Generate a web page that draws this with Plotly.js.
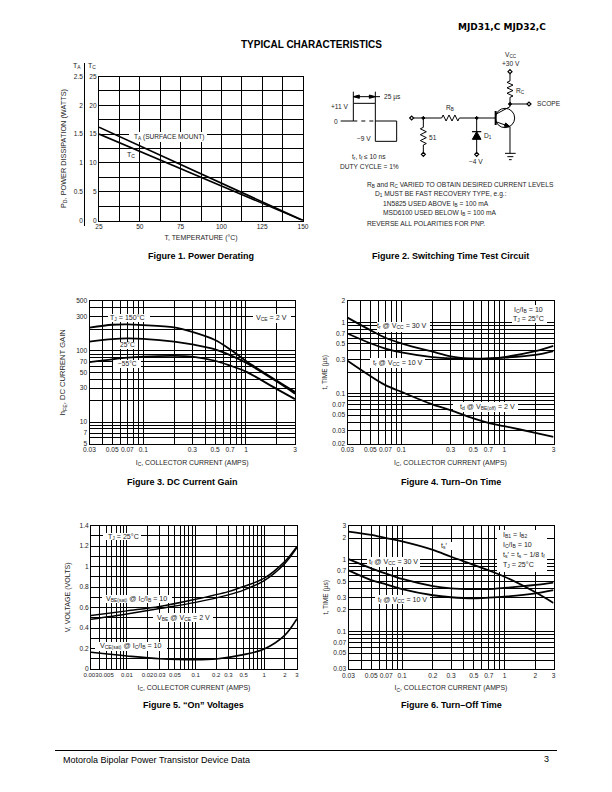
<!DOCTYPE html>
<html><head><meta charset="utf-8">
<script src="https://cdn.plot.ly/plotly-3.0.1.min.js"></script>
<style>html,body{margin:0;padding:0;background:#fff}#c{width:612px;height:792px}</style>
</head><body><div id="c"></div>
<script>
// ---------- data ----------
const tempC = [25, 150];
const derateTA = [1.62, 0];
const derateTC = [15, 0];
const tempGrid = [25,37.5,50,62.5,75,87.5,100,112.5,125,137.5,150];
const tempLabels = ['25','','50','','75','','100','','125','','150'];
const tcGrid = [0,2.5,5,7.5,10,12.5,15,17.5,20,22.5,25];
const tcLabels = ['0','','5','','10','','15','','20','','25'];
const taGrid = [0,0.5,1,1.5,2,2.5];
const taLabels = ['0','0.5','1','1.5','2','2.5'];

const icGrid = [0.03,0.04,0.05,0.06,0.07,0.08,0.09,0.1,0.2,0.3,0.4,0.5,0.6,0.7,0.8,0.9,1,2,3];
const icLabels = ['0.03','','0.05','','0.07','','','0.1','','0.3','','0.5','','0.7','','','1','','3'];

const gainIc = [0.03,0.05,0.07,0.1,0.2,0.3,0.5,0.7,1,2,3];
const gain150 = [211,232,235,230,213,185,142,105,72,38,26.5];
const gain25 = [135,146,149,147,135,123,105,87,68,37,25];
const gainM55 = [69.5,76,80,83,85,83,72.5,62,51,29,21];
const gainGrid = [5,6,7,8,9,10,20,30,40,50,60,70,80,90,100,200,300,400,500];
const gainLabels = ['5','','7','','','10','','30','','50','','70','','','100','','300','','500'];

const onIc = [0.03,0.05,0.07,0.1,0.2,0.3,0.5,0.7,1,2,3];
const trV30 = [1.17,0.78,0.61,0.51,0.388,0.334,0.31,0.31,0.327,0.396,0.47];
const trV10 = [0.70,0.51,0.43,0.38,0.327,0.313,0.31,0.313,0.32,0.35,0.396];
const tdOff = [0.29,0.177,0.132,0.106,0.0706,0.0588,0.045,0.039,0.035,0.0283,0.0248];
const onGrid = [0.02,0.03,0.04,0.05,0.06,0.07,0.08,0.09,0.1,0.2,0.3,0.4,0.5,0.6,0.7,0.8,0.9,1,2];
const onLabels = ['0.02','0.03','','0.05','','0.07','','','0.1','','0.3','','0.5','','0.7','','','1','2'];

const vIc = [0.003,0.01,0.03,0.1,0.3,0.5,1,2,3];
const vbeSat = [0.521,0.567,0.61,0.68,0.755,0.805,0.886,1.05,1.195];
const vbeOn = [0.485,0.537,0.59,0.65,0.723,0.77,0.863,1.03,1.185];
const vIcCe = [0.003,0.01,0.03,0.1,0.2,0.5,1,2,3];
const vceSat = [0.163,0.127,0.10,0.09,0.098,0.14,0.195,0.33,0.49];
const vIcGrid = [0.003,0.004,0.005,0.006,0.007,0.008,0.009,0.01,0.02,0.03,0.04,0.05,0.06,0.07,0.08,0.09,0.1,0.2,0.3,0.4,0.5,0.6,0.7,0.8,0.9,1,2,3];
const vIcLabels = ['0.003','','0.005','','','','','0.01','0.02','0.03','','0.05','','','','','0.1','0.2','0.3','','0.5','','','','','1','2','3'];
const voltGrid = [0,0.1,0.2,0.3,0.4,0.5,0.6,0.7,0.8,0.9,1,1.1,1.2,1.3,1.4];
const voltLabels = ['0','','0.2','','0.4','','0.6','','0.8','','1','','1.2','','1.4'];

const offIc = [0.03,0.05,0.07,0.1,0.2,0.3,0.5,0.7,1,2,3];
const tsPrime = [2.47,2.22,2.0,1.8,1.37,1.1,0.85,0.71,0.58,0.352,0.25];
const tfV30 = [1.02,0.76,0.64,0.54,0.43,0.40,0.39,0.39,0.405,0.445,0.48];
const tfV10 = [0.71,0.52,0.455,0.39,0.32,0.30,0.29,0.296,0.306,0.34,0.377];
const offXGrid = [0.03,0.04,0.05,0.06,0.07,0.08,0.09,0.1,0.2,0.3,0.4,0.5,0.6,0.7,0.8,0.9,1,2,3];
const offXLabels = ['0.03','','0.05','','0.07','','','0.1','0.2','0.3','','0.5','','0.7','','','1','2','3'];
const offYGrid = [0.03,0.04,0.05,0.06,0.07,0.08,0.09,0.1,0.2,0.3,0.4,0.5,0.6,0.7,0.8,0.9,1,2,3];
const offYLabels = ['0.03','','0.05','','0.07','','','0.1','0.2','0.3','','0.5','','0.7','','','1','2','3'];

// ---------- layout helpers ----------
const W = 612, H = 792, FONT = 'Liberation Sans, Arial, sans-serif', INK = '#1c1c1c';
const px = x => x / W, py = y => 1 - y / H;
const tickFont = {family: FONT, size: 6.6, color: INK};

function axis(dom, type, range, vals, labels, title, standoff, extra) {
  const major = vals.filter((v, i) => labels[i] !== '');
  const majorText = labels.filter(t => t !== '');
  const minor = vals.filter((v, i) => labels[i] === '');
  const a = {
    type, range, domain: dom, tickmode: 'array', tickvals: major, ticktext: majorText,
    ticks: '', showgrid: true, gridcolor: '#000', gridwidth: 1, zeroline: false,
    showline: true, linecolor: '#000', linewidth: 1, mirror: true, tickangle: 0,
    tickfont: tickFont, fixedrange: true, automargin: false,
    title: {text: title, font: {family: FONT, size: (extra && extra.tsize) || 6.9, color: INK}, standoff}
  };
  if (minor.length) a.minor = {tickmode: 'array', tickvals: minor, showgrid: true, gridcolor: '#000', gridwidth: 1, ticks: ''};
  if (extra) { delete extra.tsize; Object.assign(a, extra); }
  return a;
}
const lg = Math.log10;
function line(x, y, xa, ya, width, shape) {
  return {x, y, xaxis: xa, yaxis: ya, type: 'scatter', mode: 'lines', hoverinfo: 'skip',
          line: {color: '#000', width: width || 1.8, shape: shape || 'spline', smoothing: 0.9}};
}
const ICT = 'I<sub>C</sub>, COLLECTOR CURRENT (AMPS)';
const TT = 't, TIME (µs)';

const traces = [
  line(tempC, derateTC, 'x', 'y', 1.6, 'linear'),
  line(tempC, derateTA, 'x', 'y2', 1.6, 'linear'),
  line(gainIc, gain150, 'x3', 'y3'), line(gainIc, gain25, 'x3', 'y3'), line(gainIc, gainM55, 'x3', 'y3'),
  line(onIc, trV30, 'x4', 'y4'), line(onIc, trV10, 'x4', 'y4'), line(onIc, tdOff, 'x4', 'y4'),
  line(vIc, vbeSat, 'x5', 'y5', 1.5), line(vIc, vbeOn, 'x5', 'y5', 1.5), line(vIcCe, vceSat, 'x5', 'y5', 1.6),
  line(offIc, tsPrime, 'x6', 'y6'), line(offIc, tfV30, 'x6', 'y6'), line(offIc, tfV10, 'x6', 'y6')
];

const dx = (a, b) => [px(a), px(b)], dy = (t, b) => [py(b), py(t)];
const frames = {
  '': [99, 303, 76.5, 220.5], '3': [89.5, 295, 301, 443.5], '4': [347.5, 553.5, 301, 443.5],
  '5': [91, 297, 525.5, 669], '6': [348.5, 553.5, 525.5, 669]
};
const fx = k => dx(frames[k][0], frames[k][1]), fy = k => dy(frames[k][2], frames[k][3]);

const layout = {
  width: W, height: H, margin: {l: 0, r: 0, t: 0, b: 0, pad: 0}, showlegend: false,
  paper_bgcolor: '#fff', plot_bgcolor: '#fff', font: {family: FONT, color: INK},
  xaxis: axis(fx(''), 'linear', [25, 150], tempGrid, tempLabels, 'T, TEMPERATURE (°C)', 5, {anchor: 'y'}),
  yaxis: axis(fy(''), 'linear', [0, 25], tcGrid, tcLabels, '', 0, {anchor: 'x'}),
  yaxis2: axis(fy(''), 'linear', [0, 2.5], taGrid, taLabels, 'P<sub>D</sub>, POWER DISSIPATION (WATTS)', 5,
    {tsize: 7.3, overlaying: 'y', anchor: 'free', position: px(83), showgrid: false, showline: false, mirror: false, side: 'left'}),
  xaxis3: axis(fx('3'), 'log', [lg(0.03), lg(3)], icGrid, icLabels, ICT, 7, {anchor: 'y3'}),
  yaxis3: axis(fy('3'), 'log', [lg(5), lg(500)], gainGrid, gainLabels, 'h<sub>FE</sub>, DC CURRENT GAIN', 9, {tsize: 7.6, anchor: 'x3'}),
  xaxis4: axis(fx('4'), 'log', [lg(0.03), lg(3)], icGrid, icLabels, ICT, 7, {anchor: 'y4'}),
  yaxis4: axis(fy('4'), 'log', [lg(0.02), lg(2)], onGrid, onLabels, TT, 4, {tsize: 6.6, anchor: 'x4'}),
  xaxis5: axis(fx('5'), 'log', [lg(0.003), lg(3)], vIcGrid, vIcLabels, ICT, 7.5,
    {anchor: 'y5', tickfont: {family: FONT, size: 6, color: INK}}),
  yaxis5: axis(fy('5'), 'linear', [0, 1.4], voltGrid, voltLabels, 'V, VOLTAGE (VOLTS)', 8, {tsize: 7.1, anchor: 'x5'}),
  xaxis6: axis(fx('6'), 'log', [lg(0.03), lg(3)], offXGrid, offXLabels, ICT, 7, {anchor: 'y6'}),
  yaxis6: axis(fy('6'), 'log', [lg(0.03), lg(3)], offYGrid, offYLabels, TT, 4, {tsize: 6.6, anchor: 'x6'})
};

// ---------- annotations (page-pixel placement) ----------
function note(x, y, text, o) {
  o = o || {};
  return {
    xref: 'paper', yref: 'paper', x: px(x), y: py(y), text, showarrow: false,
    xanchor: o.xa || 'center', yanchor: 'middle', align: o.xa === 'left' ? 'left' : 'center',
    font: {family: o.family || FONT, size: o.size || 6.6, color: o.color || INK},
    bgcolor: 'rgba(0,0,0,0)', borderpad: 0
  };
}
const lab = (x, y, t, xa) => note(x, y, t, {size: 7.1, xa});
const capt = {size: 9, color: '#000'};
const capB = t => '<b>' + t + '</b>';
const c2 = (zx, zy) => [320 + zx / 3, 10 + zy / 3];
const cn = (zx, zy, t, o) => { const p = c2(zx, zy); return note(p[0], p[1], t, o); };

layout.annotations = [
  note(457, 27, capB('MJD31,C MJD32,C'), {xa: 'left', size: 9, color: '#000', family: 'DejaVu Sans, sans-serif'}),
  note(311, 44, capB('TYPICAL CHARACTERISTICS'), {size: 10, color: '#000'}),
  note(201, 255.5, capB('Figure 1. Power Derating'), capt),
  note(450.5, 255.5, capB('Figure 2. Switching Time Test Circuit'), capt),
  note(182, 482, capB('Figure 3. DC Current Gain'), capt),
  note(451, 482, capB('Figure 4. Turn–On Time'), capt),
  note(193.5, 705, capB('Figure 5. “On” Voltages'), capt),
  note(451, 705, capB('Figure 6. Turn–Off Time'), capt),
  note(62, 760, 'Motorola Bipolar Power Transistor Device Data', {xa: 'left', size: 9, color: '#000'}),
  note(546, 759, '3', {size: 9, color: '#000'}),
  // Figure 1
  note(76.5, 65.5, 'T<sub>A</sub>', {size: 7}), note(92, 65.5, 'T<sub>C</sub>', {size: 7}),
  note(169, 136.5, 'T<sub>A</sub> (SURFACE MOUNT)'), lab(131, 155, 'T<sub>C</sub>'),
  // Figure 3
  lab(127.5, 318, 'T<sub>J</sub> = 150°C'), lab(271.5, 318, 'V<sub>CE</sub> = 2 V'),
  note(127.5, 345, '25°C'), note(127.5, 364, '−55°C'),
  // Figure 4
  lab(528, 310, 'I<sub>C</sub>/I<sub>B</sub> = 10'), lab(528, 319, 'T<sub>J</sub> = 25°C'),
  lab(402, 326.5, 't<sub>r</sub> @ V<sub>CC</sub> = 30 V'),
  lab(397.5, 362.5, 't<sub>r</sub> @ V<sub>CC</sub> = 10 V'),
  lab(487.5, 406.5, 't<sub>d</sub> @ V<sub>BE(off)</sub> = 2 V'),
  // Figure 5
  lab(123.5, 536.5, 'T<sub>J</sub> = 25°C'),
  lab(136, 599, 'V<sub>BE(sat)</sub> @ I<sub>C</sub>/I<sub>B</sub> = 10'),
  lab(183.5, 617.5, 'V<sub>BE</sub> @ V<sub>CE</sub> = 2 V'),
  lab(131, 646, 'V<sub>CE(sat)</sub> @ I<sub>C</sub>/I<sub>B</sub> = 10'),
  // Figure 6
  lab(443.5, 545.5, 't<sub>s</sub>′'),
  lab(393, 561.5, 't<sub>f</sub> @ V<sub>CC</sub> = 30 V'),
  lab(402.5, 599.5, 't<sub>f</sub> @ V<sub>CC</sub> = 10 V'),
  lab(501.5, 535, 'I<sub>B1</sub> = I<sub>B2</sub>', 'left'),
  lab(501.5, 544.5, 'I<sub>C</sub>/I<sub>B</sub> = 10', 'left'),
  lab(501.5, 555, 't<sub>s</sub>′ = t<sub>s</sub> − 1/8 t<sub>f</sub>', 'left'),
  lab(501.5, 565, 'T<sub>J</sub> = 25°C', 'left'),
  // Figure 2 text
  cn(572, 135, 'V<sub>CC</sub>'), cn(572, 162, '+30 V'),
  cn(602, 243, 'R<sub>C</sub>'), cn(390, 295, 'R<sub>B</sub>'),
  cn(648, 282, 'SCOPE', {xa: 'left'}), cn(340, 383, '51'),
  cn(503, 378, 'D<sub>1</sub>'), cn(468, 455, '−4 V'),
  cn(188, 260, '25 µs', {xa: 'left'}), cn(90, 290, '+11 V', {xa: 'right'}),
  cn(48, 333, '0'), cn(155, 386, '−9 V', {xa: 'right'}),
  cn(148, 440, 't<sub>r</sub>, t<sub>f</sub> ≤ 10 ns'), cn(148, 470, 'DUTY CYCLE = 1%'),
  cn(137, 525, 'R<sub>B</sub> and R<sub>C</sub> VARIED TO OBTAIN DESIRED CURRENT LEVELS', {xa: 'left', size: 6.65}),
  cn(162, 553, 'D<sub>1</sub> MUST BE FAST RECOVERY TYPE, e.g.:', {xa: 'left', size: 6.65}),
  cn(187, 582, '1N5825 USED ABOVE I<sub>B</sub> = 100 mA', {xa: 'left', size: 6.65}),
  cn(187, 610, 'MSD6100 USED BELOW I<sub>B</sub> = 100 mA', {xa: 'left', size: 6.65}),
  cn(137, 640, 'REVERSE ALL POLARITIES FOR PNP.', {xa: 'left', size: 6.65})
];

// white patches that sit over the grid but under the curves, behind each label
function patch(k, x0, x1, y0, y1) {
  const f = frames[k], xa = layout['xaxis' + k], ya = layout['yaxis' + k];
  const conv = (a, t) => {
    const v = a.range[0] + t * (a.range[1] - a.range[0]);
    return a.type === 'log' ? Math.pow(10, v) : v;
  };
  const X = p => conv(xa, (p - f[0]) / (f[1] - f[0]));
  const Y = p => conv(ya, (f[3] - p) / (f[3] - f[2]));
  return {type: 'rect', xref: 'x' + k, yref: 'y' + k, layer: 'between',
    x0: X(x0), x1: X(x1), y0: Y(y1), y1: Y(y0), fillcolor: '#fff', line: {width: 0}};
}
const patches = [
  patch('', 129, 207, 132, 142),
  patch('3', 108, 150, 314, 322), patch('3', 253, 291, 314, 323), patch('3', 118, 136, 342, 349), patch('3', 113, 141, 360, 368),
  patch('4', 512, 547, 305, 323), patch('4', 377, 430, 322, 332), patch('4', 370, 425, 358, 368), patch('4', 453, 518, 402, 412),
  patch('5', 103, 141, 533, 540), patch('5', 102, 172, 595, 603), patch('5', 153, 213, 613, 622), patch('5', 95, 167, 642, 651),
  patch('6', 437, 452, 542, 550), patch('6', 367, 420, 557, 567), patch('6', 375, 430, 595, 604), patch('6', 497, 547, 530, 572)
];

// ---------- circuit drawing (schematic, not data) ----------
function path(points, o) {
  o = o || {};
  const d = points.map((p, i) => {
    const q = c2(p[0], p[1]);
    return (i ? 'L' : 'M') + px(q[0]).toFixed(5) + ',' + py(q[1]).toFixed(5);
  }).join(' ') + (o.close ? ' Z' : '');
  return {type: 'path', xref: 'paper', yref: 'paper', path: d, layer: 'above',
    line: {color: '#000', width: o.w === undefined ? 1 : o.w, dash: o.dash || 'solid'},
    fillcolor: o.fill ? '#000' : 'rgba(0,0,0,0)'};
}
function dot(x, y) { return path([[x-5,y],[x,y-5],[x+5,y],[x,y+5]], {fill: true, close: true}); }
function hollow(x, y) { return path([[x-6,y],[x,y-6],[x+6,y],[x,y+6]], {close: true, w: 1.2}); }
function circle(x, y, r) {
  const a = c2(x - r, y - r), b = c2(x + r, y + r);
  return {type: 'circle', xref: 'paper', yref: 'paper', x0: px(a[0]), x1: px(b[0]), y0: py(a[1]), y1: py(b[1]),
    line: {color: '#000', width: 1}, layer: 'above'};
}
function zigH(x0, x1, y) {
  const n = 6, s = (x1 - x0) / n, pts = [[x0, y]];
  for (let i = 0; i < n; i++) pts.push([x0 + s * (i + 0.5), y + (i % 2 ? 9 : -9)]);
  pts.push([x1, y]); return pts;
}
function zigV(x, y0, y1) {
  const n = 6, s = (y1 - y0) / n, pts = [[x, y0]];
  for (let i = 0; i < n; i++) pts.push([x + (i % 2 ? 9 : -9), y0 + s * (i + 0.5)]);
  pts.push([x, y1]); return pts;
}
layout.shapes = patches.concat([
  {type: 'line', xref: 'paper', yref: 'paper', x0: px(55), x1: px(557), y0: py(750.5), y1: py(750.5), line: {color: '#000', width: 1}},
  {type: 'line', xref: 'paper', yref: 'paper', x0: px(84.5), x1: px(84.5), y0: py(63), y1: py(226), line: {color: '#000', width: 1}},
  // pulse
  path([[62,333],[100,333],[100,280],[166,280],[166,394],[230,394],[230,333],[166,333]]),
  path([[100,333],[166,333]], {dash: '4px,4px'}),
  path([[100,245],[100,280]]), path([[166,245],[166,280]]),
  path([[100,260],[180,260]]),
  path([[100,260],[118,255],[118,265]], {fill: true, close: true}),
  path([[166,260],[148,255],[148,265]], {fill: true, close: true}),
  // input, base network
  hollow(275, 324), path([[281,324],[365,324]]), dot(310, 324),
  path(zigH(365, 418, 324)), path([[418,324],[527,324]]), dot(470, 324),
  path([[310,324],[310,352]]), path(zigV(310, 352, 405)), path([[310,405],[310,427]]), hollow(310, 433),
  path([[470,324],[470,427]]), hollow(470, 433),
  path([[457,388],[483,388],[470,365]], {fill: true, close: true}), path([[456,365],[484,365]], {w: 1.2}),
  // transistor
  circle(555, 324, 29),
  path([[527,303],[527,345]], {w: 2}),
  path([[527,313],[570,290]]), path([[527,335],[570,350]]),
  path([[570,350],[553,349],[557,339]], {fill: true, close: true}),
  path([[570,350],[570,430]]), path([[570,290],[570,262]]), dot(570, 282),
  path([[570,282],[621,282]]), hollow(627, 282),
  path(zigV(570, 213, 262)), path([[570,213],[570,191]]), hollow(570, 185),
  // ground
  path([[555,430],[587,430]]), path([[562,440],[580,440]]), path([[567,449],[575,449]])
]);

Plotly.newPlot('c', traces, layout, {staticPlot: true, displayModeBar: false});
</script></body></html>
